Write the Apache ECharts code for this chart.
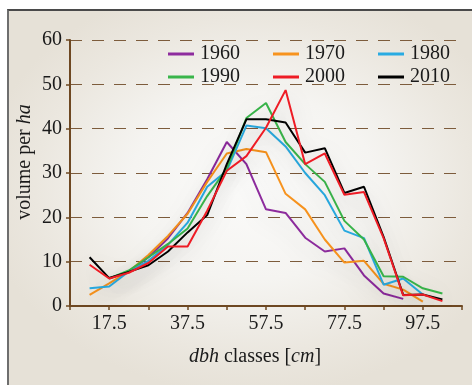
<!DOCTYPE html>
<html>
<head>
<meta charset="utf-8">
<script src="https://cdn.jsdelivr.net/npm/echarts@6/dist/echarts.min.js"></script>
<style>
  html, body { margin: 0; padding: 0; background: #ffffff; }
  #wrap { position: relative; width: 472px; height: 385px; overflow: hidden; background: #ffffff; }
  #panel {
    position: absolute; left: 7px; top: 9px; width: 470px; height: 380px;
    border-left: 2px solid #6e6e6e; border-top: 2px solid #4a4a4a;
    background: radial-gradient(ellipse 58% 55% at 52% 46%, #fbfbfa 0%, #f5f4f1 45%, #ebe7df 80%, #e6e1d7 100%);
  }
  #chart { position: absolute; left: 0; top: 0; width: 472px; height: 385px; }
</style>
</head>
<body>
<div id="wrap">
  <div id="panel"></div>
  <div id="chart"></div>
</div>
<script>
// dbh class centres (cm)
const dbhClasses = [12.5, 17.5, 22.5, 27.5, 32.5, 37.5, 42.5, 47.5, 52.5, 57.5,
                    62.5, 67.5, 72.5, 77.5, 82.5, 87.5, 92.5, 97.5, 102.5];

// volume per ha for each inventory year
const v1960 = [null, 6.2, 7.7, 11.0, 15.3, 21.0, 28.6, 37.0, 32.0, 21.8, 21.0, 15.4, 12.3, 13.0, 6.9, 2.8, 1.6, null, null];
const v1970 = [2.5, 5.1, 7.8, 11.5, 15.8, 20.8, 28.0, 34.4, 35.4, 34.7, 25.3, 21.8, 15.0, 9.8, 10.2, 5.0, 3.7, 1.0, null];
const v1980 = [4.0, 4.4, 7.8, 10.2, 13.8, 18.8, 26.9, 30.5, 40.7, 40.1, 36.0, 30.0, 25.0, 17.0, 15.3, 4.8, 6.2, 2.6, null];
const v1990 = [null, 6.2, 8.0, 11.0, 14.0, 17.5, 24.8, 31.0, 42.4, 45.8, 37.0, 32.0, 28.0, 19.2, 15.0, 6.7, 6.6, 4.0, 2.8];
const v2000 = [9.3, 6.2, 7.5, 9.7, 13.4, 13.4, 21.5, 30.5, 33.8, 40.2, 48.7, 32.0, 34.4, 25.1, 25.7, 15.3, 2.4, 2.6, 1.1];
const v2010 = [11.0, 6.3, 7.7, 9.2, 12.3, 16.6, 20.5, 32.0, 42.1, 42.1, 41.4, 34.6, 35.6, 25.5, 26.9, 15.6, 2.5, 2.6, 1.5];

// x-axis labels that are printed
const xTickLabels = [17.5, 37.5, 57.5, 77.5, 97.5];

const years = ['1960', '1970', '1980', '1990', '2000', '2010'];
const yearValues = { '1960': v1960, '1970': v1970, '1980': v1980, '1990': v1990, '2000': v2000, '2010': v2010 };
const yearColors = { '1960': '#8e2c9e', '1970': '#f7931e', '1980': '#29abe2', '1990': '#39b54a', '2000': '#ee1c25', '2010': '#000000' };

const serif = '"Liberation Serif", "DejaVu Serif", serif';
const axisBrown = '#6e4822';
const gridBrown = '#7d5c3c';

function pairs(vals) {
  const out = [];
  vals.forEach((v, i) => { if (v !== null) out.push([dbhClasses[i], v]); });
  return out;
}

// draw 2010 before 2000 so the red line sits on top of the black one
const drawOrder = ['1960', '1970', '1980', '1990', '2010', '2000'];
const series = drawOrder.map(y => ({
  name: y,
  type: 'line',
  data: pairs(yearValues[y]),
  showSymbol: false,
  symbol: 'none',
  color: yearColors[y],
  lineStyle: {
    width: 2, color: yearColors[y],
    shadowColor: 'rgba(0,0,0,0.22)', shadowBlur: 24, shadowOffsetY: 8
  },
  animation: false
}));

const legendCommon = {
  left: 163,
  orient: 'horizontal',
  icon: 'rect',
  itemWidth: 26,
  itemHeight: 3,
  itemGap: 33,
  textStyle: { fontFamily: serif, fontSize: 20, color: '#1a1a1a', padding: [0, 0, 0, 1] },
  selectedMode: false
};

const chart = echarts.init(document.getElementById('chart'), null, { renderer: 'canvas' });
chart.setOption({
  backgroundColor: 'transparent',
  animation: false,
  grid: { left: 70, right: 10, top: 40, bottom: 79, containLabel: false },
  legend: [
    Object.assign({ top: 39, data: years.slice(0, 3) }, legendCommon),
    Object.assign({ top: 62, data: years.slice(3) }, legendCommon)
  ],
  xAxis: {
    type: 'value',
    min: 7.5,
    max: 107.5,
    interval: 10,
    axisLine: { show: true, onZero: false, lineStyle: { color: axisBrown, width: 2 } },
    axisTick: { show: true, inside: false, length: 4, lineStyle: { color: axisBrown, width: 1.5 } },
    axisLabel: {
      margin: 8,
      fontFamily: serif, fontSize: 20, color: '#1a1a1a',
      showMinLabel: true, showMaxLabel: true,
      formatter: v => (xTickLabels.some(t => Math.abs(t - v) < 1e-6) ? v.toFixed(1) : '')
    },
    splitLine: { show: false }
  },
  yAxis: {
    type: 'value',
    min: 0,
    max: 60,
    interval: 10,
    axisLine: { show: true, lineStyle: { color: axisBrown, width: 2 } },
    axisTick: { show: true, inside: false, length: 4, lineStyle: { color: axisBrown, width: 1.5 } },
    axisLabel: { margin: 8, fontFamily: serif, fontSize: 20, color: '#1a1a1a' },
    splitLine: { show: true, lineStyle: { color: gridBrown, width: 1.2, type: [12, 10] } }
  },
  graphic: [
    {
      type: 'text',
      x: 25, y: 162,
      rotation: Math.PI / 2,
      style: {
        text: 'volume per {i|ha}',
        align: 'center', verticalAlign: 'middle',
        fontFamily: serif, fontSize: 20, fill: '#1a1a1a',
        rich: { i: { fontFamily: serif, fontSize: 20, fontStyle: 'italic', fill: '#1a1a1a' } }
      }
    },
    {
      type: 'text',
      x: 255, y: 357,
      style: {
        text: '{i|dbh} classes [{i|cm}]',
        align: 'center', verticalAlign: 'middle',
        fontFamily: serif, fontSize: 20, fill: '#1a1a1a',
        rich: { i: { fontFamily: serif, fontSize: 20, fontStyle: 'italic', fill: '#1a1a1a' } }
      }
    }
  ],
  series: series
});
</script>
</body>
</html>
